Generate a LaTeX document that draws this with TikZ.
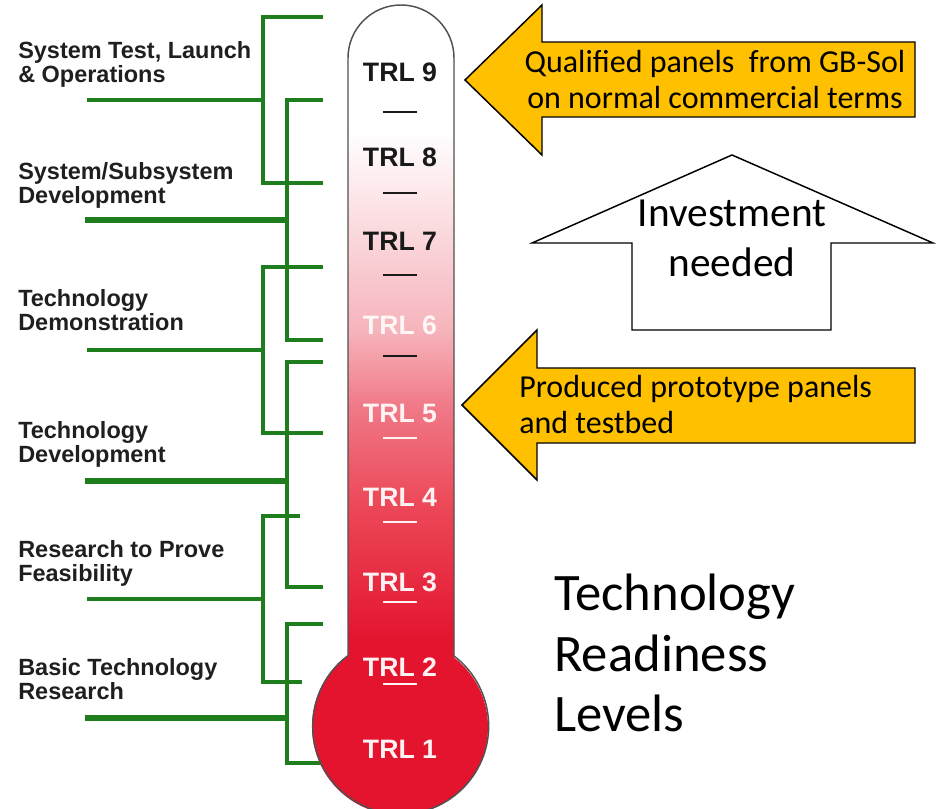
\documentclass[tikz,border=0pt]{standalone}
\usepackage{fontspec}
\setmainfont{Carlito}
\newfontfamily\labfont{Liberation Sans}
\definecolor{trlgreen}{HTML}{1E7E1E}
\definecolor{arrowgold}{HTML}{FFC000}
\definecolor{tubepink}{HTML}{F6B4BC}
\definecolor{tubesoft}{HTML}{F07A88}
\definecolor{tubemid}{HTML}{EC4A5A}
\definecolor{bulbred}{HTML}{E4142F}
\definecolor{glassedge}{HTML}{505050}
\definecolor{trlwhite}{HTML}{FFF2F2}
\begin{document}
\begin{tikzpicture}[x=0.75pt, y=-0.75pt,
  branch/.style={draw=trlgreen, line width=2.3pt},
  stemline/.style={draw=trlgreen, line width=3.8pt},
  stagelabel/.style={anchor=north west, inner sep=0pt, align=left,
    font=\labfont\bfseries\fontsize{17.6}{18}\selectfont, text=black!88},
  trllabel/.style={anchor=base, inner sep=0pt,
    font=\labfont\bfseries\fontsize{20}{22}\selectfont},
  tick/.style={line width=1.9pt},
  blockarrow/.style={fill=arrowgold, draw=black, line width=1.1pt, line join=miter},
  openarrow/.style={fill=white, draw=black, line width=1.1pt, line join=miter},
  arrowtext/.style={inner sep=0pt, font=\fontsize{24}{27}\selectfont}
]
\useasboundingbox (0,0) rectangle (936,809);

% ---- stage labels on the left ----
\node[stagelabel] (s9) at (18,41)  {System Test, Launch\\\& Operations};
\node[stagelabel] (s8) at (18,162) {System/Subsystem\\Development};
\node[stagelabel] (s7) at (18,289) {Technology\\Demonstration};
\node[stagelabel] (s5) at (18,421) {Technology\\Development};
\node[stagelabel] (s3) at (18,540) {Research to Prove\\Feasibility};
\node[stagelabel] (s1) at (18,658) {Basic Technology\\Research};

% ---- green brackets joining each stage to its levels ----
\draw[branch] (323,17) -| (263,183) -- (323,183);
\draw[branch] (87,100) -- (263,100);
\draw[branch] (323,100) -| (287,340) -- (323,340);
\draw[stemline] (85,220) -- (287,220);
\draw[branch] (323,267) -| (263,433) -- (323,433);
\draw[branch] (87,350) -- (263,350);
\draw[branch] (323,362) -| (287,587) -- (323,587);
\draw[stemline] (85,481) -- (287,481);
\draw[branch] (300,516) -| (263,682) -- (302,682);
\draw[branch] (87,599) -- (263,599);
\draw[branch] (323,624) -| (287,763) -- (322,763);
\draw[stemline] (85,718) -- (287,718);

% ---- thermometer ----
\begin{scope}
  \clip (348,700) -- (348,58) arc[start angle=180, end angle=0, radius=39.75pt]
        -- (454,700) -- cycle;
  \fill[white] (340,0) rectangle (460,130);
  \shade[top color=white, bottom color=tubepink] (340,130) rectangle (460,330);
  \shade[top color=tubepink, bottom color=tubesoft] (340,330) rectangle (460,405);
  \shade[top color=tubesoft, bottom color=tubemid] (340,405) rectangle (460,500);
  \shade[top color=tubemid, bottom color=bulbred] (340,500) rectangle (460,640);
  \fill[bulbred] (340,640) rectangle (460,700);
\end{scope}
\fill[bulbred] (400,727) circle[radius=66pt];
\draw[glassedge, line width=1.1pt]
  (348,656) -- (348,58) arc[start angle=180, end angle=0, radius=39.75pt]
  -- (454,656) arc[start angle=52.7, end angle=-232.7, radius=66pt];

% level labels and scale ticks
\node[trllabel, text=black!90] (t9) at (400,82)  {TRL 9};
\node[trllabel, text=black!90] (t8) at (400,167) {TRL 8};
\node[trllabel, text=black!90] (t7) at (400,251) {TRL 7};
\node[trllabel, text=white!85!pink] (t6) at (400,335) {TRL 6};
\node[trllabel, text=trlwhite] (t5) at (400,422) {TRL 5};
\node[trllabel, text=trlwhite] (t4) at (400,506) {TRL 4};
\node[trllabel, text=trlwhite] (t3) at (400,591) {TRL 3};
\node[trllabel, text=trlwhite] (t2) at (400,676) {TRL 2};
\node[trllabel, text=trlwhite] (t1) at (400,758) {TRL 1};
\foreach \y in {112,193,275,356}
  \draw[tick, black!90] (383,\y) -- (417,\y);
\foreach \y in {438,522,602,684}
  \draw[tick, trlwhite] (383,\y) -- (417,\y);

% ---- gold arrow: qualified panels ----
\draw[blockarrow] (465,80) -- (542,5) -- (542,42) -- (915,42) -- (915,117)
  -- (542,117) -- (542,155) -- cycle;
\node[arrowtext, anchor=north, align=center] (qual) at (715,50)
  {Qualified panels\ \ from GB-Sol\\on normal commercial terms};

% ---- open arrow: investment ----
\draw[openarrow] (732,155) -- (933,243) -- (831,243) -- (831,330) -- (632,330)
  -- (632,243) -- (532,243) -- cycle;
\node[inner sep=0pt, anchor=north, align=center,
  font=\fontsize{31}{37.5}\selectfont] (inv) at (732,200) {Investment\\needed};

% ---- gold arrow: prototype panels ----
\draw[blockarrow] (462,405) -- (537,330) -- (537,368) -- (915,368) -- (915,443)
  -- (537,443) -- (537,480) -- cycle;
\node[arrowtext, anchor=north west, align=left] (proto) at (519,375)
  {Produced prototype panels\\and testbed};

% ---- title ----
\node[inner sep=0pt, anchor=north west, align=left,
  font=\fontsize{39.5}{45.4}\selectfont] (title) at (554,574)
  {Technology\\Readiness\\Levels};
\end{tikzpicture}
\end{document}
